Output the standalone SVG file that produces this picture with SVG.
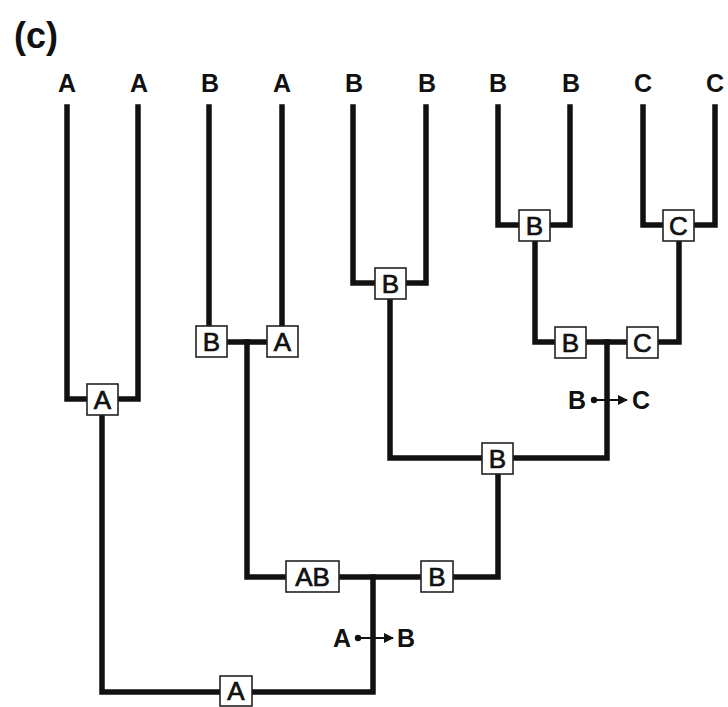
<svg xmlns="http://www.w3.org/2000/svg" width="728" height="707" viewBox="0 0 728 707">
  <defs>
    <style>
      .edge { fill: none; stroke: #111; stroke-width: 5.5; stroke-linejoin: miter; stroke-linecap: square; }
      .tip { font-family: "Liberation Sans", Arial, sans-serif; font-weight: bold; font-size: 25px; fill: #111; text-anchor: middle; }
      .box rect { fill: #fff; stroke: #222; stroke-width: 1.6; }
      .box text { font-family: "Liberation Sans", Arial, sans-serif; font-size: 26px; fill: #111; stroke: #111; stroke-width: 0.7; text-anchor: middle; }
      .shift text { font-family: "Liberation Sans", Arial, sans-serif; font-weight: bold; font-size: 25px; fill: #111; text-anchor: middle; }
      .shift line { stroke: #111; stroke-width: 2; }
      .title { font-family: "Liberation Sans", Arial, sans-serif; font-weight: bold; font-size: 36px; fill: #111; }
    </style>
    <marker id="arrow" viewBox="0 0 10 10" refX="9" refY="5" markerWidth="5" markerHeight="5" orient="auto" markerUnits="strokeWidth">
      <path d="M0,0 L10,5 L0,10 z" fill="#111"/>
    </marker>
  </defs>
  <rect width="728" height="707" fill="#fff"/>

  <text class="title" x="14" y="48">(c)</text>

  <!-- tip labels -->
  <g id="tips">
    <text class="tip" x="67" y="92">A</text>
    <text class="tip" x="139" y="92">A</text>
    <text class="tip" x="210" y="92">B</text>
    <text class="tip" x="282" y="92">A</text>
    <text class="tip" x="354" y="92">B</text>
    <text class="tip" x="427" y="92">B</text>
    <text class="tip" x="498" y="92">B</text>
    <text class="tip" x="571" y="92">B</text>
    <text class="tip" x="643" y="92">C</text>
    <text class="tip" x="715" y="92">C</text>
  </g>

  <!-- branches -->
  <g id="connectors">
    <path class="edge" d="M67,107 V399 H138 V107"/>
    <path class="edge" d="M209,107 V342 H282 V107"/>
    <path class="edge" d="M353,107 V283 H426 V107"/>
    <path class="edge" d="M498,107 V225 H570 V107"/>
    <path class="edge" d="M643,107 V225 H715 V107"/>
    <path class="edge" d="M535,225 V342 H679 V225"/>
    <path class="edge" d="M390,283 V458 H607 V342"/>
    <path class="edge" d="M247,342 V577 H498 V458"/>
    <path class="edge" d="M102,399 V692 H373 V577"/>
  </g>

  <!-- ancestral state boxes -->
  <g id="n-aa" class="box"><rect x="87" y="384" width="31" height="31"/><text x="102.5" y="409">A</text></g>
  <g id="n-b1" class="box"><rect x="196" y="326" width="31" height="31"/><text x="211.5" y="351">B</text></g>
  <g id="n-a1" class="box"><rect x="267" y="326" width="31" height="31"/><text x="282.5" y="351">A</text></g>
  <g id="n-bb1" class="box"><rect x="375" y="268" width="31" height="31"/><text x="390.5" y="293">B</text></g>
  <g id="n-bb2" class="box"><rect x="519" y="210" width="31" height="31"/><text x="534.5" y="235">B</text></g>
  <g id="n-cc" class="box"><rect x="663" y="210" width="31" height="31"/><text x="678.5" y="235">C</text></g>
  <g id="n-b2" class="box"><rect x="555" y="327" width="31" height="31"/><text x="570.5" y="352">B</text></g>
  <g id="n-c2" class="box"><rect x="627" y="327" width="31" height="31"/><text x="642.5" y="352">C</text></g>
  <g id="n-b3" class="box"><rect x="482" y="443" width="31" height="31"/><text x="497.5" y="468">B</text></g>
  <g id="n-ab" class="box"><rect x="286" y="561" width="53" height="31"/><text x="312.5" y="586">AB</text></g>
  <g id="n-b4" class="box"><rect x="421" y="561" width="32" height="31"/><text x="437" y="586">B</text></g>
  <g id="n-root" class="box"><rect x="220" y="676" width="32" height="30"/><text x="236" y="700">A</text></g>

  <!-- state transitions -->
  <g id="shift-bc" class="shift">
    <text x="577" y="409">B</text>
    <circle cx="594" cy="400" r="3.2" fill="#111"/>
    <line x1="594" y1="400" x2="627" y2="400" marker-end="url(#arrow)"/>
    <text x="641" y="409">C</text>
  </g>
  <g id="shift-ab" class="shift">
    <text x="342" y="647">A</text>
    <circle cx="358" cy="638" r="3.2" fill="#111"/>
    <line x1="358" y1="638" x2="393" y2="638" marker-end="url(#arrow)"/>
    <text x="406" y="647">B</text>
  </g>
</svg>
